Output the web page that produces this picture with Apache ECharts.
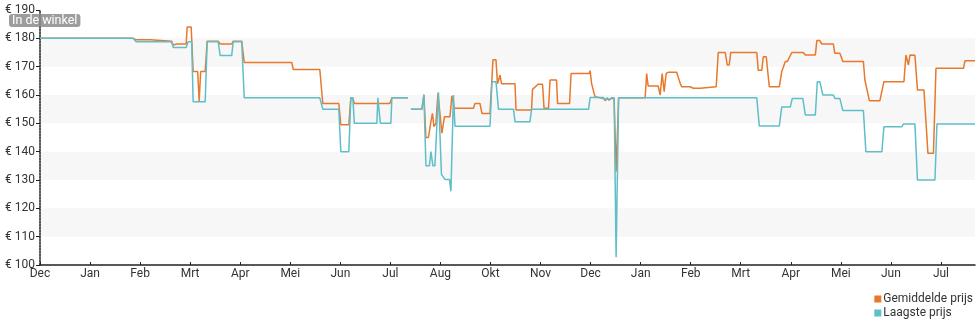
<!DOCTYPE html>
<html>
<head>
<meta charset="utf-8">
<script src="https://cdn.jsdelivr.net/npm/echarts@6/dist/echarts.min.js"></script>
<style>
  html, body { margin: 0; padding: 0; background: #fff; }
  #chart { width: 980px; height: 325px; }
</style>
</head>
<body>
<div id="chart"></div>
<script>
// Month tick labels along the x axis (one tick per month position)
const monthLabels = ['Dec', 'Jan', 'Feb', 'Mrt', 'Apr', 'Mei', 'Jun', 'Jul', 'Aug', 'Okt',
  'Nov', 'Dec', 'Jan', 'Feb', 'Mrt', 'Apr', 'Mei', 'Jun', 'Jul'];

// Price ticks (euro)
const priceTicks = [100, 110, 120, 130, 140, 150, 160, 170, 180, 190];

// Average price: position in months from the first tick, and price in euro
const avgPos = [0.00, 1.86, 1.92, 2.20, 2.23, 2.63, 2.66, 2.73, 2.92, 2.94, 3.02, 3.06, 3.15, 3.18, 3.21,
  3.30, 3.34, 3.56, 3.60, 3.83, 3.86, 4.03, 4.08, 5.03, 5.06, 5.59, 5.65, 5.97, 6.01, 6.17, 6.21,
  6.25, 6.28, 6.99, 7.03, 7.35, 7.37, 7.41, 7.63, 7.67, 7.71, 7.76, 7.81, 7.84, 7.87, 7.91, 7.95,
  7.98, 8.03, 8.08, 8.19, 8.23, 8.28, 8.66, 8.69, 8.79, 8.83, 8.99, 9.05, 9.11, 9.14, 9.17, 9.19,
  9.22, 9.49, 9.51, 9.82, 9.84, 9.95, 10.04, 10.07, 10.16, 10.19, 10.32, 10.34, 10.58, 10.61,
  10.97, 10.99, 11.02, 11.06, 11.09, 11.26, 11.29, 11.33, 11.37, 11.41, 11.47, 11.51, 11.56,
  12.09, 12.12, 12.15, 12.35, 12.39, 12.43, 12.47, 12.51, 12.55, 12.72, 12.79, 12.82, 12.99,
  13.05, 13.19, 13.22, 13.51, 13.55, 13.69, 13.73, 13.77, 13.80, 14.32, 14.35, 14.42, 14.45,
  14.51, 14.57, 14.77, 14.82, 14.89, 14.93, 15.02, 15.25, 15.29, 15.49, 15.52, 15.58, 15.62,
  15.85, 15.88, 15.98, 16.04, 16.45, 16.48, 16.57, 16.78, 16.86, 17.26, 17.30, 17.35, 17.38,
  17.48, 17.53, 17.66, 17.74, 17.85, 17.90, 18.45, 18.48, 18.68];
const avgPrice = [180, 180, 179.5, 179.5, 179, 179, 177.6, 178, 178, 184, 184, 168.3, 168.3, 157.8, 168.3,
  168.3, 179, 179, 178, 178, 179, 179, 171.5, 171.5, 169, 169, 157, 157, 149.5, 149.5, 159,
  159, 157, 157, 159, 159, null, 155, 155, 160, 145, 145, 150.6, 153.5, 148.8, 150, 160.6,
  161, 146.5, 152.3, 152.3, 159.7, 155.3, 155.3, 157, 157, 153.5, 153.5, 172.4, 172.4, 164, 164, 167,
  164, 164, 154.7, 154.7, 162, 163.8, 163.8, 155.3, 155.3, 165.3, 165.3, 157, 157, 167.6,
  167.6, 168.6, 164.1, 161.2, 159.4, 158.8, 158, 158.8, 158.2, 158.8, 158.8, 133, 159,
  159, 167.6, 163.2, 163.2, 160, 167.6, 161.2, 167.6, 168, 168, 164.1, 162.9, 162.9,
  162.4, 162.4, 162.9, 162.9, 175, 175, 170.6, 170.6, 175, 175, 168.7, 168.7, 173.5,
  173.5, 162.9, 162.9, 168.3, 171.8, 171.8, 175, 175, 174.1, 174.1, 179.2, 179.2, 178,
  178, 174.7, 174.7, 171.8, 171.8, 165.3, 158, 158, 164.7, 164.7, 174.1, 170.6, 174.1,
  174, 161.8, 161.8, 139.4, 139.4, 169.4, 169.4, 172.1, 172.1];

// Lowest price: position in months from the first tick, and price in euro
const lowPos = [0.00, 1.86, 1.92, 2.63, 2.66, 2.92, 2.96, 3.03, 3.06, 3.30, 3.34, 3.56, 3.60, 3.83, 3.86,
  4.03, 4.08, 5.59, 5.65, 5.97, 6.01, 6.17, 6.21, 6.25, 6.28, 6.73, 6.75, 6.78, 6.80, 7.01,
  7.03, 7.35, 7.37, 7.41, 7.63, 7.67, 7.71, 7.78, 7.81, 7.85, 7.89, 7.96, 8.02, 8.09, 8.18,
  8.21, 8.26, 8.29, 8.99, 9.03, 9.11, 9.16, 9.46, 9.49, 9.79, 9.82, 10.96, 10.99, 11.26,
  11.29, 11.33, 11.37, 11.42, 11.47, 11.51, 11.56, 14.32, 14.37, 14.77, 14.82, 14.99, 15.03,
  15.24, 15.29, 15.49, 15.53, 15.58, 15.64, 15.85, 15.88, 15.98, 16.04, 16.45, 16.50, 16.82,
  16.86, 17.22, 17.25, 17.48, 17.53, 17.88, 17.92, 18.68];
const lowPrice = [180, 180, 178.8, 178.8, 176.8, 176.8, 178.8, 178.8, 157.6, 157.6, 178.8, 178.8, 173.9, 173.9, 178.8,
  178.8, 159, 159, 155, 155, 140, 140, 159, 159, 150, 150, 159, 159, 150, 150,
  159, 159, null, 155, 155, 160.2, 135, 135, 140, 135, 135, 161, 132, 130.2, 130.2,
  126, 160, 149, 149, 164.7, 164.7, 155, 155, 150.6, 150.6, 155, 155, 159.1, 159.1,
  158.2, 159, 158.4, 159, 159, 102.7, 159, 159, 149.1, 149.1, 155.8, 155.8, 158.8,
  158.8, 152.9, 152.9, 164.7, 164.7, 160, 160, 158.8, 158.8, 154.5, 154.5, 140, 140,
  148.8, 148.8, 149.8, 149.8, 130, 130, 149.8, 149.8];

const ORANGE = '#e8782c';
const TEAL = '#5fbec8';

function pairs(xs, ys) {
  return xs.map((x, i) => [x, ys[i]]);
}

const chart = echarts.init(document.getElementById('chart'), null, { renderer: 'canvas' });
const tickPositions = monthLabels.map((_, i) => i);

chart.setOption({
  animation: false,
  backgroundColor: '#fff',
  textStyle: { fontFamily: 'Roboto' },
  title: {
    text: 'In de winkel',
    left: 9,
    top: 14,
    padding: [0, 3],
    backgroundColor: 'rgba(140,140,140,0.85)',
    borderRadius: 3,
    textStyle: { color: '#fff', fontSize: 12.5, fontWeight: 'normal', fontFamily: 'Roboto', lineHeight: 13 }
  },
  legend: {
    orient: 'vertical',
    right: 2,
    bottom: 1,
    icon: 'rect',
    itemWidth: 7,
    itemHeight: 7,
    itemGap: 2,
    textStyle: { color: '#333', fontSize: 12, padding: [0, 0, 0, -3] },
    data: ['Gemiddelde prijs', 'Laagste prijs']
  },
  grid: { left: 40, right: 5, top: 10, bottom: 60, containLabel: false },
  xAxis: {
    type: 'value',
    min: 0,
    max: 18.68,
    splitLine: { show: false },
    axisLine: { show: true, lineStyle: { color: '#222', width: 1.5 } },
    axisTick: { show: true, inside: true, length: 3, customValues: tickPositions, lineStyle: { color: '#222' } },
    axisLabel: {
      customValues: tickPositions,
      formatter: (v) => monthLabels[Math.round(v)] || '',
      color: '#333',
      fontSize: 12,
      margin: 3
    }
  },
  yAxis: {
    type: 'value',
    min: priceTicks[0],
    max: priceTicks[priceTicks.length - 1],
    interval: 10,
    axisLine: { show: true, lineStyle: { color: '#222', width: 1.5, type: [2, 1] } },
    axisTick: { show: true, length: 4, lineStyle: { color: '#222' } },
    axisLabel: { formatter: '€ {value}', color: '#333', fontSize: 12, margin: 5 },
    splitLine: { show: false },
    splitArea: { show: true, areaStyle: { color: ['rgba(255,255,255,0)', '#f7f7f7'] } }
  },
  series: [
    {
      name: 'Gemiddelde prijs',
      type: 'line',
      data: pairs(avgPos, avgPrice),
      showSymbol: false,
      connectNulls: false,
      color: ORANGE,
      lineStyle: { width: 1.5, color: ORANGE }
    },
    {
      name: 'Laagste prijs',
      type: 'line',
      data: pairs(lowPos, lowPrice),
      showSymbol: false,
      connectNulls: false,
      color: TEAL,
      lineStyle: { width: 1.5, color: TEAL }
    }
  ]
});
</script>
</body>
</html>
